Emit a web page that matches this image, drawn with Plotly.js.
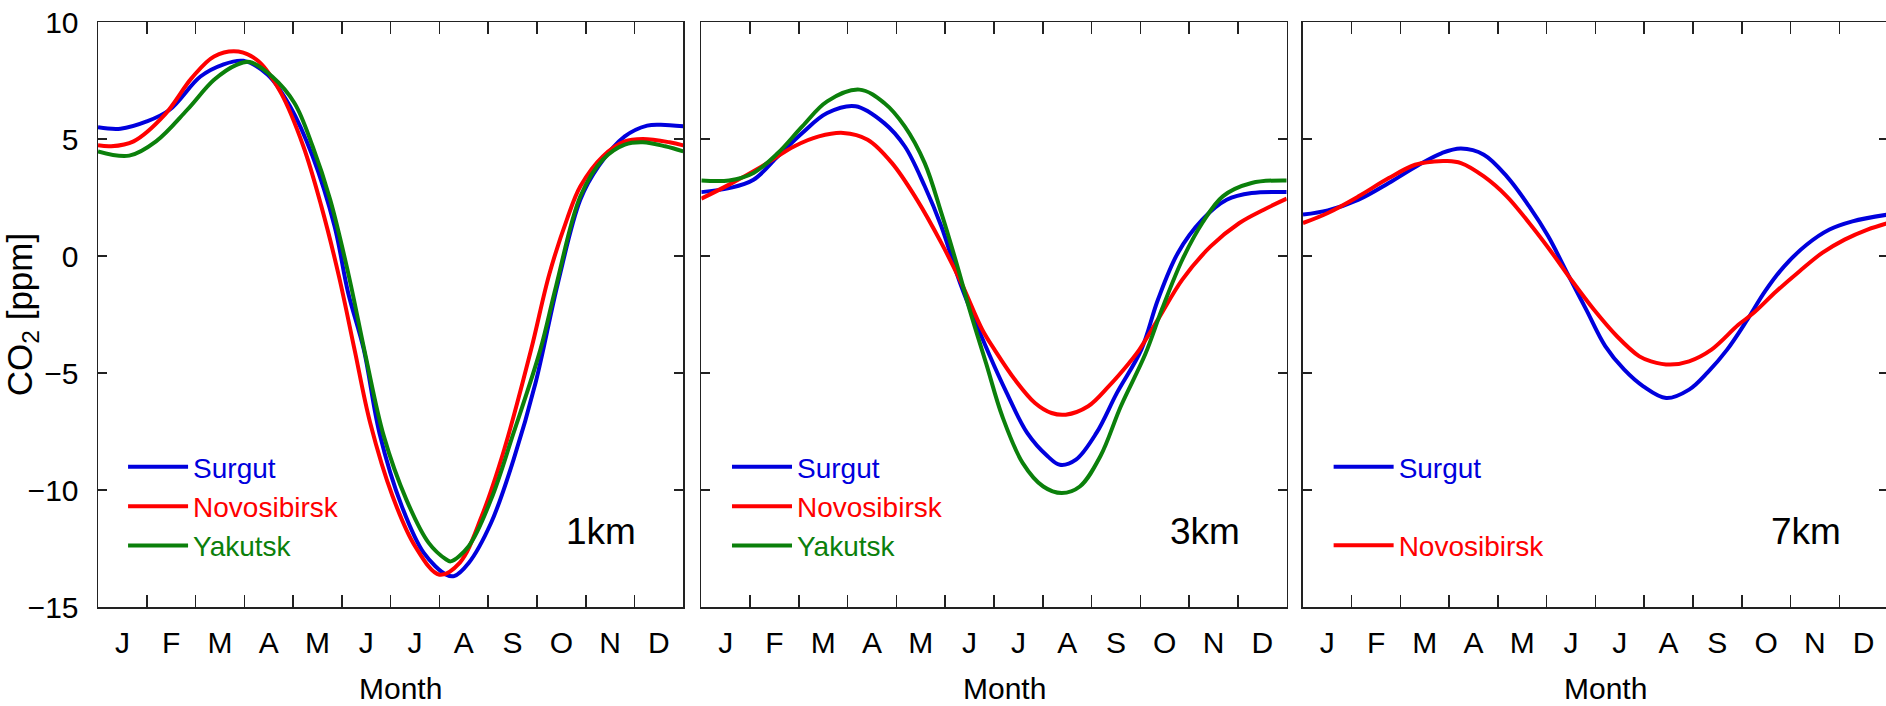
<!DOCTYPE html>
<html>
<head>
<meta charset="utf-8">
<script src="https://cdn.plot.ly/plotly-3.0.1.min.js"></script>
<style>
  html, body { margin: 0; padding: 0; overflow: hidden; background: #fff; }
  #chart { width: 1889px; height: 706px; }
</style>
</head>
<body>
<div id="chart"></div>
<script>
// Month axis: labels sit at month centres, tick marks at month boundaries
const monthLabels = ['J', 'F', 'M', 'A', 'M', 'J', 'J', 'A', 'S', 'O', 'N', 'D'];
const monthCentres = [0.5, 1.5, 2.5, 3.5, 4.5, 5.5, 6.5, 7.5, 8.5, 9.5, 10.5, 11.5];
const monthBounds = [1, 2, 3, 4, 5, 6, 7, 8, 9, 10, 11];
const co2Ticks = [-15, -10, -5, 0, 5, 10];

const stations = ['Surgut', 'Novosibirsk', 'Yakutsk'];
const altitudes = ['1km', '3km', '7km'];

// Mean seasonal CO2 cycle (ppm), position in months from 1 January
// 1 km
const surgut1kmMonth = [0, 0.46, 1.0, 1.47, 2.1, 2.55, 2.98, 3.48, 3.94, 4.4, 4.85, 5.13, 5.45, 5.77, 6.23, 6.68, 7.14, 7.3, 7.6, 8.06, 8.52, 8.97, 9.43, 9.89, 10.26, 10.8, 11.26, 11.54, 12];
const surgut1kmCO2 = [5.50, 5.44, 5.75, 6.25, 7.67, 8.17, 8.34, 7.74, 6.39, 4.26, 1.27, -1.58, -4.0, -7.56, -10.7, -12.69, -13.62, -13.68, -13.12, -11.4, -8.7, -5.43, -1.15, 2.41, 3.83, 5.11, 5.57, 5.61, 5.54];
const novosibirsk1kmMonth = [0, 0.27, 0.73, 1.37, 1.92, 2.38, 2.88, 3.29, 3.75, 4.21, 4.58, 4.94, 5.26, 5.58, 6.04, 6.5, 7.0, 7.42, 7.87, 8.33, 8.88, 9.25, 9.62, 9.89, 10.35, 10.8, 11.17, 11.72, 12];
const novosibirsk1kmCO2 = [4.73, 4.69, 4.9, 6.04, 7.6, 8.53, 8.74, 8.32, 6.97, 4.69, 2.12, -0.87, -4.0, -7.13, -10.27, -12.4, -13.62, -13.1, -11.1, -8.26, -4.0, -0.8, 1.6, 2.98, 4.26, 4.9, 5.0, 4.86, 4.73];
const yakutsk1kmMonth = [0, 0.64, 1.19, 1.83, 2.38, 2.84, 3.11, 3.57, 4.03, 4.4, 4.76, 5.13, 5.49, 5.86, 6.32, 6.78, 7.14, 7.23, 7.6, 8.06, 8.52, 9.07, 9.39, 9.89, 10.35, 10.8, 11.17, 11.63, 12];
const yakutsk1kmCO2 = [4.47, 4.29, 4.9, 6.25, 7.53, 8.17, 8.29, 7.67, 6.53, 4.69, 2.41, -0.73, -4.3, -7.7, -10.4, -12.26, -12.97, -13.05, -12.4, -10.4, -7.56, -4.0, -1.3, 2.55, 4.12, 4.76, 4.86, 4.69, 4.47];

// 3 km
const surgut3kmMonth = [0, 0.57, 1.07, 1.57, 2.07, 2.58, 3.16, 3.75, 4.17, 4.58, 4.92, 5.33, 5.9, 6.26, 6.68, 7.1, 7.35, 7.68, 8.1, 8.52, 9.02, 9.36, 9.77, 10.27, 10.77, 11.28, 12];
const surgut3kmCO2 = [2.73, 2.9, 3.26, 4.26, 5.26, 6.11, 6.4, 5.68, 4.69, 2.98, 1.27, -1.3, -4.2, -5.85, -7.56, -8.56, -8.92, -8.7, -7.56, -5.85, -4.0, -1.87, 0.13, 1.55, 2.4, 2.69, 2.73];
const novosibirsk3kmMonth = [0, 0.57, 1.24, 1.91, 2.41, 2.91, 3.41, 3.91, 4.42, 4.92, 5.33, 5.76, 6.01, 6.43, 6.84, 7.18, 7.47, 7.93, 8.35, 8.77, 8.98, 9.36, 9.86, 10.44, 11.03, 11.53, 12];
const novosibirsk3kmCO2 = [2.45, 3.05, 3.83, 4.69, 5.11, 5.26, 4.97, 3.97, 2.41, 0.56, -1.15, -3.15, -4.0, -5.29, -6.28, -6.71, -6.78, -6.42, -5.57, -4.57, -4.0, -2.72, -1.01, 0.41, 1.41, 1.98, 2.45];
const yakutsk3kmMonth = [0, 0.57, 1.07, 1.57, 2.07, 2.58, 3.24, 3.75, 4.17, 4.58, 4.92, 5.25, 5.5, 5.84, 6.17, 6.59, 7.01, 7.39, 7.76, 8.18, 8.6, 9.1, 9.44, 9.86, 10.27, 10.69, 11.28, 12];
const yakutsk3kmCO2 = [3.23, 3.23, 3.55, 4.4, 5.54, 6.61, 7.11, 6.54, 5.54, 3.97, 1.84, -0.44, -2.29, -4.6, -6.85, -8.85, -9.85, -10.13, -9.85, -8.56, -6.42, -4.2, -2.29, -0.16, 1.41, 2.55, 3.12, 3.23];

// 7 km
const surgut7kmMonth = [0, 0.51, 1.14, 1.76, 2.38, 2.85, 3.24, 3.71, 4.18, 4.64, 5.03, 5.42, 5.81, 6.2, 6.59, 6.98, 7.45, 7.92, 8.31, 8.7, 9.09, 9.48, 9.87, 10.33, 10.8, 11.27, 12];
const surgut7kmCO2 = [1.77, 1.95, 2.41, 3.12, 3.9, 4.4, 4.59, 4.33, 3.4, 2.12, 0.84, -0.73, -2.29, -3.85, -4.86, -5.57, -6.07, -5.71, -4.95, -4.0, -2.8, -1.5, -0.44, 0.48, 1.13, 1.48, 1.77];
const novosibirsk7kmMonth = [0, 0.51, 1.14, 1.76, 2.3, 2.69, 2.93, 3.24, 3.71, 4.18, 4.64, 5.11, 5.5, 5.97, 6.44, 6.9, 7.14, 7.53, 7.92, 8.38, 8.93, 9.24, 9.71, 10.18, 10.65, 11.11, 11.58, 12];
const novosibirsk7kmCO2 = [1.41, 1.84, 2.55, 3.33, 3.9, 4.04, 4.06, 3.97, 3.4, 2.55, 1.41, 0.13, -1.01, -2.3, -3.43, -4.29, -4.5, -4.64, -4.5, -4.0, -2.94, -2.44, -1.51, -0.66, 0.13, 0.7, 1.13, 1.41];

const stationColours = { Surgut: '#0000dd', Novosibirsk: '#ff0000', Yakutsk: '#0b800b' };
const FONT = 'Liberation Sans, Arial, Helvetica, sans-serif';

const panels = [
  { series: [['Surgut', surgut1kmMonth, surgut1kmCO2], ['Novosibirsk', novosibirsk1kmMonth, novosibirsk1kmCO2], ['Yakutsk', yakutsk1kmMonth, yakutsk1kmCO2]] },
  { series: [['Surgut', surgut3kmMonth, surgut3kmCO2], ['Novosibirsk', novosibirsk3kmMonth, novosibirsk3kmCO2], ['Yakutsk', yakutsk3kmMonth, yakutsk3kmCO2]] },
  { series: [['Surgut', surgut7kmMonth, surgut7kmCO2], ['Novosibirsk', novosibirsk7kmMonth, novosibirsk7kmCO2]] }
];

const domains = [[0, 0.32698], [0.33704, 0.66408], [0.67318, 1]];
const legendX = [0.0140, 0.3514, 0.6875];

const data = [];
panels.forEach((panel, i) => {
  const sfx = i === 0 ? '' : String(i + 1);
  panel.series.forEach(([station, months, values]) => {
    data.push({
      type: 'scatter', mode: 'lines',
      x: months, y: values,
      xaxis: 'x' + sfx, yaxis: 'y' + sfx,
      legend: 'legend' + sfx,
      legendgroup: station + sfx,
      name: '<span style="color:' + stationColours[station] + '">' + station + '</span>',
      line: { color: stationColours[station], width: 4, shape: 'spline', smoothing: 1 },
      hoverinfo: 'skip'
    });
  });
});

const lineCol = '#222';
const layout = {
  width: 1889, height: 706,
  margin: { l: 98, r: 1, t: 22, b: 99 },
  paper_bgcolor: '#fff', plot_bgcolor: '#fff',
  font: { family: FONT, color: '#000' },
  annotations: []
};

panels.forEach((panel, i) => {
  const sfx = i === 0 ? '' : String(i + 1);
  layout['xaxis' + sfx] = {
    domain: domains[i], anchor: 'y' + sfx, range: [0, 12],
    tickmode: 'array', tickvals: monthCentres, ticktext: monthLabels,
    ticks: '', tickfont: { family: FONT, size: 30, color: '#000' }, ticklabelstandoff: 8,
    showline: true, linecolor: lineCol, linewidth: 1.5, mirror: 'ticks',
    showgrid: false, zeroline: false, fixedrange: true,
    minor: { tickmode: 'array', tickvals: monthBounds, ticks: 'inside', ticklen: 12, tickwidth: 1.5, tickcolor: lineCol, showgrid: false }
  };
  layout['yaxis' + sfx] = {
    domain: [0, 1], anchor: 'x' + sfx, range: [-15, 10],
    tickmode: 'array', tickvals: co2Ticks,
    ticks: 'inside', ticklen: 9, tickwidth: 1.5, tickcolor: lineCol,
    showticklabels: i === 0, tickfont: { family: FONT, size: 30, color: '#000' }, ticklabelstandoff: 12,
    showline: true, linecolor: lineCol, linewidth: 1.5, mirror: 'ticks',
    showgrid: false, zeroline: false, fixedrange: true
  };
  layout['legend' + sfx] = {
    x: legendX[i], y: 0.282, xanchor: 'left', yanchor: 'top',
    bgcolor: 'rgba(0,0,0,0)', borderwidth: 0,
    font: { family: FONT, size: 28 }, itemwidth: 60,
    traceorder: 'grouped', tracegroupgap: i === 2 ? 39 : 0
  };
  layout.annotations.push({
    text: altitudes[i], xref: 'x' + sfx + ' domain', yref: 'y' + sfx + ' domain',
    x: 1, y: 0.1296, xanchor: 'right', yanchor: 'middle', xshift: -45,
    showarrow: false, font: { family: FONT, size: 37, color: '#000' }
  });
  layout.annotations.push({
    text: 'Month', xref: 'x' + sfx + ' domain', yref: 'y' + sfx + ' domain',
    x: 0.5, y: 0, xanchor: 'center', yanchor: 'middle', xshift: 10, yshift: -81,
    showarrow: false, font: { family: FONT, size: 30, color: '#000' }
  });
});

layout.yaxis.title = { text: 'CO<sub>2</sub> [ppm]', font: { family: FONT, size: 35, color: '#000' }, standoff: 1 };

Plotly.newPlot('chart', data, layout, { staticPlot: true, displayModeBar: false, responsive: false });
</script>
</body>
</html>
